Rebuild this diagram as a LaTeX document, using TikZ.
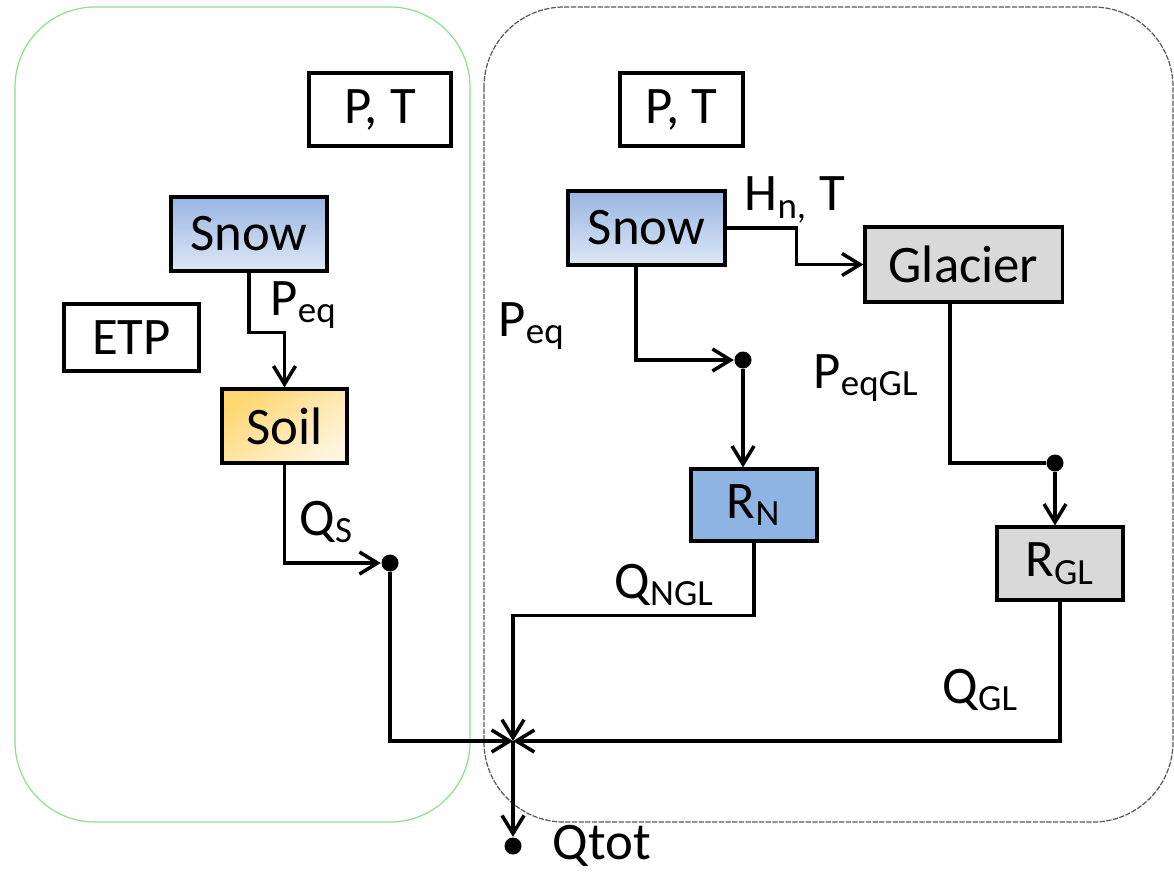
\documentclass[tikz,border=0pt]{standalone}
\usepackage{fontspec}
\setmainfont{Carlito}
\usepackage{tikz}
\usetikzlibrary{arrows.meta}

\definecolor{snowtop}{RGB}{152,181,226}
\definecolor{snowbot}{RGB}{222,231,246}
\definecolor{soiltop}{RGB}{255,214,112}
\definecolor{soilbot}{RGB}{255,244,222}
\definecolor{rnblue}{RGB}{141,180,226}
\definecolor{glgray}{RGB}{217,217,217}
\definecolor{zonegreen}{RGB}{140,225,140}

\newcommand{\sbs}[1]{\textsubscript{#1}}

\tikzset{
  box/.style={draw, line width=0.9pt, minimum width=#1, inner sep=0pt},
  box/.default=1.3cm,
  flow/.style={line width=0.9pt, -{Straight Barb[length=1.8mm,width=2.2mm,line width=1pt]}},
  link/.style={line width=0.9pt},
  dot/.style={circle, fill, inner sep=0pt, minimum size=0.17cm},
  lbl/.style={anchor=west, inner sep=0pt},
  zone/.style={rounded corners=0.8cm, line width=0.35pt}
}

\begin{document}
\begin{tikzpicture}[x=0.01cm, y=-0.01cm, font=\fontsize{15}{18}\selectfont]
    \useasboundingbox (0,0) rectangle (1174,872);

    % zones
    \draw[zone, draw=zonegreen] (15,7) rectangle (470,822);
    \draw[zone, draw=black!65, dash pattern=on 1.5pt off 0.4pt] (484,7) rectangle (1173,822);

    % left catchment
    \node[box=1.42cm, minimum height=0.73cm] (PTl) at (380,109.5) {P, T};
    \node[box=1.56cm, minimum height=0.74cm, top color=snowtop, bottom color=snowbot] (snowL) at (249,234) {Snow};
    \node[box=1.35cm, minimum height=0.67cm] (etp) at (131.5,337.5) {ETP};
    \node[box=1.25cm, minimum height=0.74cm, shading=axis, top color=soiltop, bottom color=soilbot, shading angle=35] (soil) at (284.5,426) {Soil};
    \node[dot] (jS) at (390,563) {};

    % right catchment
    \node[box=1.23cm, minimum height=0.73cm] (PTr) at (681.5,109.5) {P, T};
    \node[box=1.57cm, minimum height=0.74cm, top color=snowtop, bottom color=snowbot] (snowR) at (646.5,228) {Snow};
    \node[box=1.97cm, minimum height=0.75cm, fill=glgray] (glacier) at (963.5,264.5) {Glacier};
    \node[dot] (jN) at (743,360) {};
    \node[box=1.26cm, minimum height=0.72cm, fill=rnblue] (rn) at (754,505) {R\sbs{N}};
    \node[dot] (jG) at (1055,463) {};
    \node[box=1.26cm, minimum height=0.73cm, fill=glgray] (rgl) at (1060,563.5) {R\sbs{GL}};

    \coordinate (jT) at (513,741);
    \node[dot] (out) at (513,846) {};

    % fluxes
    \draw[flow] (snowL.south) -- ++(0,60) -| (soil.north);
    \draw[flow] (soil.south) |- (jS);
    \draw[flow] (jS) |- (jT);
    \draw[flow] (snowR.east) -- ++(70,0) |- (glacier.west);
    \draw[flow] ([xshift=-0.105cm]snowR.south) |- (jN);
    \draw[flow] (jN) -- (jN |- rn.north);
    \draw[link] ([xshift=-0.135cm]glacier.south) |- (jG);
    \draw[flow] (jG) -- (jG |- rgl.north);
    \draw[flow] (rn.south) -- ++(0,73) -| (jT);
    \draw[flow] (rgl.south) |- (jT);
    \draw[flow] (jT) -- (out);

    % labels
    \node[lbl] (lPeqL) at (270,305) {P\sbs{eq}};
    \node[lbl] (lQs) at (299,522) {Q\sbs{S}};
    \node[lbl] (lHn) at (744,200) {H\sbs{n,} T};
    \node[lbl] (lPeqR) at (498,326) {P\sbs{eq}};
    \node[lbl] (lPeqGL) at (813,378) {P\sbs{eqGL}};
    \node[lbl] (lQngl) at (614,585) {Q\sbs{NGL}};
    \node[lbl] (lQgl) at (942,690) {Q\sbs{GL}};
    \node[lbl] (lQtot) at (552,846) {Qtot};
  \end{tikzpicture}
\end{document}
